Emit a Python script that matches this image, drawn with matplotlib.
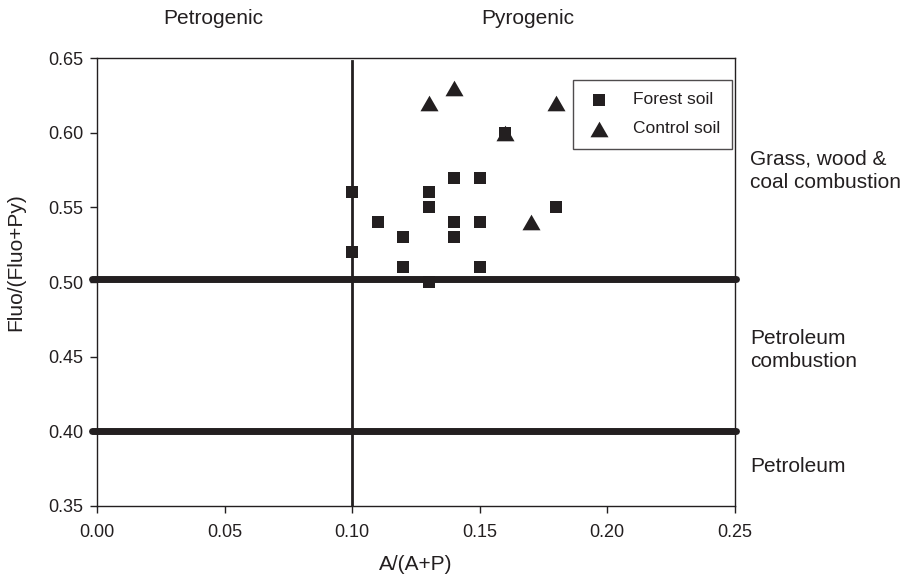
"""Fluo/(Fluo+Py) vs A/(A+P) source diagnostic plot."""

import matplotlib.pyplot as plt

forest_x = [0.10, 0.10, 0.11, 0.12, 0.12, 0.13, 0.13, 0.13, 0.14, 0.14, 0.14,
            0.15, 0.15, 0.15, 0.16, 0.18]
forest_y = [0.56, 0.52, 0.54, 0.53, 0.51, 0.56, 0.55, 0.50, 0.57, 0.54, 0.53,
            0.57, 0.54, 0.51, 0.60, 0.55]

control_x = [0.13, 0.14, 0.16, 0.18, 0.17]
control_y = [0.62, 0.63, 0.60, 0.62, 0.54]

x_ticks = [0.00, 0.05, 0.10, 0.15, 0.20, 0.25]
y_ticks = [0.35, 0.40, 0.45, 0.50, 0.55, 0.60, 0.65]

INK = "#231f20"
TRIANGLE = [(-1, -0.866), (1, -0.866), (0, 0.866)]

plt.rcParams["font.family"] = ["Liberation Sans", "DejaVu Sans"]


def main() -> None:
    fig = plt.figure(figsize=(9.06, 5.75), dpi=100)
    ax = fig.add_axes([0.107, 0.12, 0.704, 0.779])

    # threshold lines
    ax.plot([-0.0018, 0.2505], [0.502, 0.502], color=INK, lw=5,
            solid_capstyle="round", clip_on=False, zorder=2)
    ax.plot([-0.0018, 0.2505], [0.40, 0.40], color=INK, lw=5,
            solid_capstyle="round", clip_on=False, zorder=2)
    ax.plot([0.10, 0.10], [0.35, 0.648], color=INK, lw=2, zorder=2)

    ax.scatter(control_x, control_y, marker=TRIANGLE, s=169, color=INK,
               linewidths=0, label="Control soil", zorder=3, clip_on=False)
    ax.scatter(forest_x, forest_y, marker="s", s=74, color=INK,
               linewidths=0, label="Forest soil", zorder=4, clip_on=False)

    ax.set_xlim(0, 0.25)
    ax.set_ylim(0.35, 0.65)
    ax.set_xticks(x_ticks)
    ax.set_xticklabels([f"{v:.2f}" for v in x_ticks])
    ax.set_yticks(y_ticks)
    ax.set_yticklabels([f"{v:.2f}" for v in y_ticks])
    ax.tick_params(direction="out", length=5, width=1, labelsize=13,
                   colors=INK)
    ax.tick_params(axis="x", pad=8)
    ax.tick_params(axis="y", pad=5)
    for sp in ax.spines.values():
        sp.set_linewidth(1)
        sp.set_color(INK)

    ax.set_xlabel("A/(A+P)", fontsize=15, color=INK)
    ax.xaxis.set_label_coords(0.5, -0.11)
    fig.text(16 / 906, 1 - 262 / 575, "Fluo/(Fluo+Py)", rotation=90,
             ha="center", va="center", fontsize=15, color=INK)

    handles, labels = ax.get_legend_handles_labels()
    leg = ax.legend(handles[::-1], labels[::-1], loc="upper left",
                    bbox_to_anchor=(0.746, 0.951), borderaxespad=0,
                    fontsize=12.5, frameon=True, fancybox=False,
                    edgecolor=INK, handletextpad=1.15, borderpad=0.7,
                    labelspacing=0.8, handlelength=1.6)
    leg.get_frame().set_linewidth(1)
    for t in leg.get_texts():
        t.set_color(INK)

    fig.text(213 / 906, 1 - 19 / 575, "Petrogenic", ha="center", va="center",
             fontsize=15, color=INK)
    fig.text(528 / 906, 1 - 19 / 575, "Pyrogenic", ha="center", va="center",
             fontsize=15, color=INK)
    fig.text(750 / 906, 1 - 171 / 575, "Grass, wood &\ncoal combustion",
             ha="left", va="center", fontsize=15, linespacing=1.3, color=INK)
    fig.text(750 / 906, 1 - 350 / 575, "Petroleum\ncombustion", ha="left",
             va="center", fontsize=15, linespacing=1.3, color=INK)
    fig.text(750 / 906, 1 - 466 / 575, "Petroleum", ha="left", va="center",
             fontsize=15, color=INK)

    fig.savefig("out.png", dpi=100)
    plt.close(fig)


if __name__ == "__main__":
    main()
